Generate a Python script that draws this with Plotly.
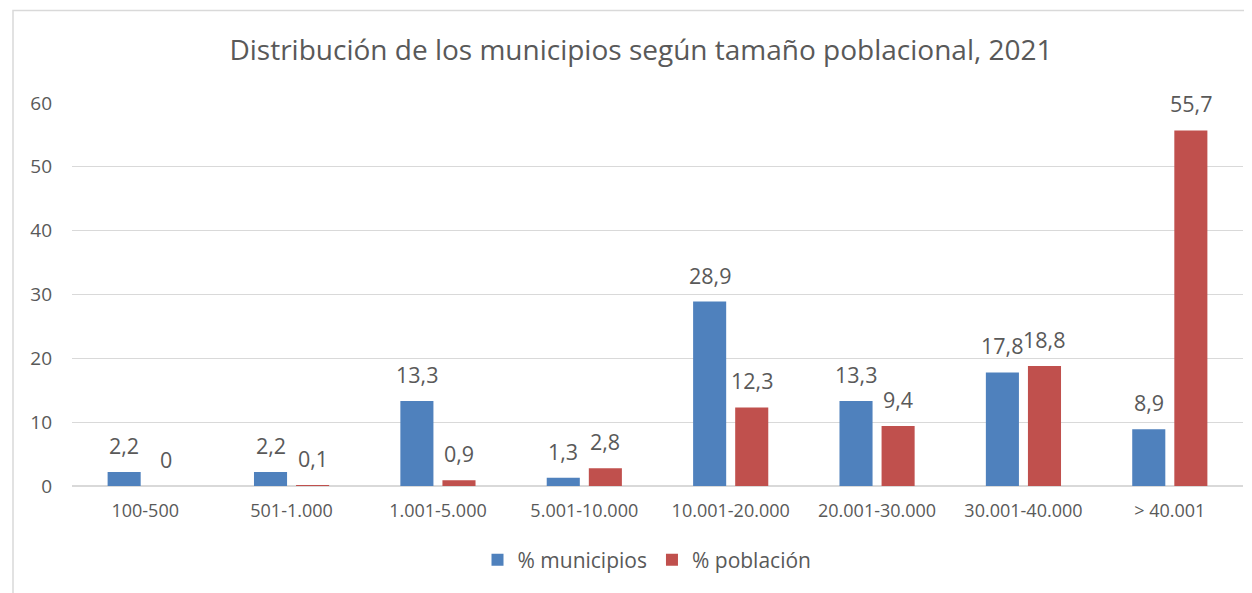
import plotly.graph_objects as go

categories = ["100-500", "501-1.000", "1.001-5.000", "5.001-10.000",
              "10.001-20.000", "20.001-30.000", "30.001-40.000", "> 40.001"]
pct_municipios = [2.2, 2.2, 13.3, 1.3, 28.9, 13.3, 17.8, 8.9]
pct_poblacion = [0, 0.1, 0.9, 2.8, 12.3, 9.4, 18.8, 55.7]
y_ticks = [0, 10, 20, 30, 40, 50, 60]

BLUE = "#4F81BD"
RED = "#C0504D"
TXT = "#595959"
GRID = "#D9D9D9"
FONT = "Open Sans"

OFF = 8  # page body margin
W, H = 1252, 593
L, R, T, B = 72 - OFF, 1252 - 1243 + OFF, 103 - OFF, 593 - 486 + OFF
pw, ph = W - L - R, H - T - B

def px_x(px):
    return (px - OFF - L) / pw

def px_y(py):
    return (H - B - (py - OFF)) / ph

def fmt(v):
    return f"{v:g}".replace(".", ",")

fig = go.Figure()
fig.add_trace(go.Bar(x=categories, y=pct_municipios, name="% municipios",
                     marker=dict(color=BLUE, line=dict(width=0))))
fig.add_trace(go.Bar(x=categories, y=pct_poblacion, name="% población",
                     marker=dict(color=RED, line=dict(width=0))))

annotations = []
for series, shift in ((pct_municipios, -21), (pct_poblacion, 21)):
    for c, v in zip(categories, series):
        annotations.append(dict(x=c, y=v, xref="x", yref="y", text=fmt(v),
                                showarrow=False, xshift=shift, yshift=10,
                                yanchor="bottom",
                                font=dict(family=FONT, size=21.5, color=TXT)))

fig.update_layout(
    width=W, height=H,
    margin=dict(l=L, r=R, t=T, b=B),
    paper_bgcolor="white", plot_bgcolor="white",
    barmode="group", bargap=0.425, bargroupgap=0.214,
    font=dict(family=FONT, color=TXT),
    title=dict(text="Distribución de los municipios según tamaño poblacional, 2021",
               x=(641 - OFF) / W, xref="container", xanchor="center",
               y=1 - (50 - OFF) / H, yref="container", yanchor="middle",
               font=dict(family=FONT, size=28, color=TXT)),
    xaxis=dict(showgrid=False, showline=False, ticks="", ticklabelstandoff=12,
               tickfont=dict(family=FONT, size=18, color=TXT)),
    yaxis=dict(range=[0, 60], tickvals=y_ticks, showgrid=True, gridcolor=GRID,
               gridwidth=1.3, zeroline=True, zerolinecolor=GRID, zerolinewidth=1.8,
               showline=False, ticks="", ticklabelstandoff=19,
               tickfont=dict(family=FONT, size=19, color=TXT)),
    legend=dict(orientation="h", x=px_x(647), xanchor="center",
                y=px_y(560), yanchor="middle",
                font=dict(family=FONT, size=21, color=TXT),
                itemwidth=30, traceorder="normal"),
    annotations=annotations,
    shapes=[dict(type="rect", xref="paper", yref="paper",
                 x0=px_x(13), x1=px_x(1270), y0=px_y(610), y1=px_y(10.5),
                 line=dict(color=GRID, width=1.5), fillcolor="rgba(0,0,0,0)",
                 layer="below")],
)

fig.write_html("out.html")
